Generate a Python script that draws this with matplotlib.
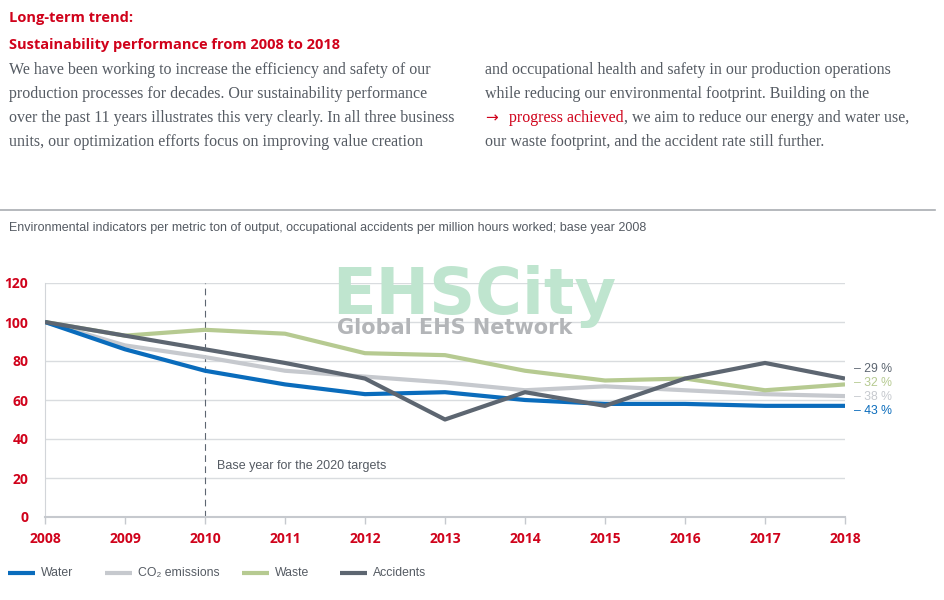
import matplotlib.pyplot as plt
from matplotlib.lines import Line2D

# data (index, base year 2008 = 100)
years = [2008, 2009, 2010, 2011, 2012, 2013, 2014, 2015, 2016, 2017, 2018]
water = [100, 86, 75, 68, 63, 64, 60, 58, 58, 57, 57]
co2 = [100, 88, 82, 75, 72, 69, 65, 67, 65, 63, 62]
waste = [100, 93, 96, 94, 84, 83, 75, 70, 71, 65, 68]
accidents = [100, 93, 86, 79, 71, 50, 64, 57, 71, 79, 71]
end_labels = ['\u2013 29 %', '\u2013 32 %', '\u2013 38 %', '\u2013 43 %']
legend_names = ['Water', 'CO\u2082 emissions', 'Waste', 'Accidents']
yticks = [0, 20, 40, 60, 80, 100, 120]

RED = '#d0021b'
BLUE = '#0a6cbc'
LGRAY = '#c6c9ce'
GREEN = '#b6ca91'
DGRAY = '#5d6671'
TXT = '#555b63'

W, H = 945, 600
fig = plt.figure(figsize=(W / 100, H / 100), dpi=100)


def px(x, y):
    return x / W, 1 - y / H


sans = ['Open Sans', 'DejaVu Sans']
narrow = ['Liberation Sans Narrow', 'Liberation Sans', 'DejaVu Sans']
serif = ['Liberation Serif']

# overlay for the header text, so pieces can be chained one after another
over = fig.add_axes([0, 0, 1, 1])
over.axis('off')
over.set_xlim(0, 1)
over.set_ylim(0, 1)

# header text
fig.text(*px(9, 18), 'Long-term trend:', color=RED, fontsize=10.5,
         fontweight='bold', family=sans, va='center')
fig.text(*px(9, 45), 'Sustainability performance from 2008 to 2018', color=RED,
         fontsize=10.5, fontweight='bold', family=sans, va='center')
left_par = ['We have been working to increase the efficiency and safety of our',
            'production processes for decades. Our sustainability performance',
            'over the past 11 years illustrates this very clearly. In all three business',
            'units, our optimization efforts focus on improving value creation']
right_par = ['and occupational health and safety in our production operations',
             'while reducing our environmental footprint. Building on the',
             None,
             'our waste footprint, and the accident rate still further.']
for i, s in enumerate(left_par):
    fig.text(*px(9, 70 + 24 * i), s, color=TXT, fontsize=11.5,
             family=serif, va='center')
for i, s in enumerate(right_par):
    if s is None:
        continue
    fig.text(*px(485, 70 + 24 * i), s, color=TXT, fontsize=11.5,
             family=serif, va='center')
arrow = over.text(*px(485, 118), '\u2192', color=RED, fontsize=11,
                  family=['DejaVu Sans'], va='center')
link = over.text(*px(509, 118), 'progress achieved', color=RED, fontsize=11.5,
                 family=serif, va='center')
over.annotate(', we aim to reduce our energy and water use,', xy=(1, 0.5),
              xycoords=link, va='center', color=TXT, fontsize=11.5, family=serif)

fig.add_artist(Line2D([0.0, 935 / W], [1 - 210 / H] * 2, color='#a9adb2', lw=1.2))
fig.text(*px(9, 228), 'Environmental indicators per metric ton of output, occupational '
         'accidents per million hours worked; base year 2008', color=TXT,
         fontsize=9, family=narrow, va='center')

# chart
ax = fig.add_axes([45 / W, 83 / H, 800 / W, 234 / H])
ax.set_xlim(years[0], years[-1])
ax.set_ylim(0, 120)
for v in yticks[1:]:
    ax.axhline(v, color='#d9dcdf', lw=1, zorder=0)
ax.axvline(2010, color=DGRAY, lw=0.8, ls=(0, (6, 4)), zorder=1)
ax.text(2010.15, 26, 'Base year for the 2020 targets', color=TXT, fontsize=9,
        family=narrow, va='center')

ax.plot(years, co2, color=LGRAY, lw=3, solid_capstyle='butt', zorder=2)
ax.plot(years, waste, color=GREEN, lw=3, solid_capstyle='butt', zorder=3)
ax.plot(years, water, color=BLUE, lw=3, solid_capstyle='butt', zorder=4)
ax.plot(years, accidents, color=DGRAY, lw=3, solid_capstyle='butt', zorder=5)

series_colors = [DGRAY, GREEN, LGRAY, BLUE]
for i, (lab, c) in enumerate(zip(end_labels, series_colors)):
    fig.text(*px(854, 369 + 14 * i), lab, color=c, fontsize=8.8, family=narrow,
             va='center')

ax.set_xticks(years)
ax.set_xticklabels([str(y) for y in years])
ax.set_yticks(yticks)
ax.tick_params(axis='x', colors='#c6c9ce', length=5, width=1, labelcolor=RED,
               labelsize=10, pad=6)
ax.tick_params(axis='y', length=0, labelcolor=RED, labelsize=10, pad=12)
for lbl in ax.get_xticklabels() + ax.get_yticklabels():
    lbl.set_fontweight('bold')
    lbl.set_family(sans)
for side in ['top', 'right']:
    ax.spines[side].set_visible(False)
ax.spines['left'].set_color('#d2d5d9')
ax.spines['bottom'].set_color('#c6c9ce')
ax.spines['bottom'].set_linewidth(1.5)

# watermark
fig.text(*px(474, 296), 'EHSCity', color='#bfe5cf', fontsize=46, fontweight='bold',
         family=['DejaVu Sans'], ha='center', va='center', zorder=0)
fig.text(*px(455, 328), 'Global EHS Network', color='#b3b5b8', fontsize=15,
         fontweight='bold', family=['DejaVu Sans'], ha='center', va='center', zorder=0)

# legend
legend_colors = [BLUE, LGRAY, GREEN, DGRAY]
leg_x = [8, 105, 242, 340]
for name, c, x0 in zip(legend_names, legend_colors, leg_x):
    fig.add_artist(Line2D([x0 / W, (x0 + 27) / W], [1 - 573 / H] * 2, color=c, lw=3,
                          solid_capstyle='butt'))
    fig.text(*px(x0 + 33, 573), name, color=TXT, fontsize=8.8, family=narrow,
             va='center')

fig.savefig('out.png', dpi=100)
